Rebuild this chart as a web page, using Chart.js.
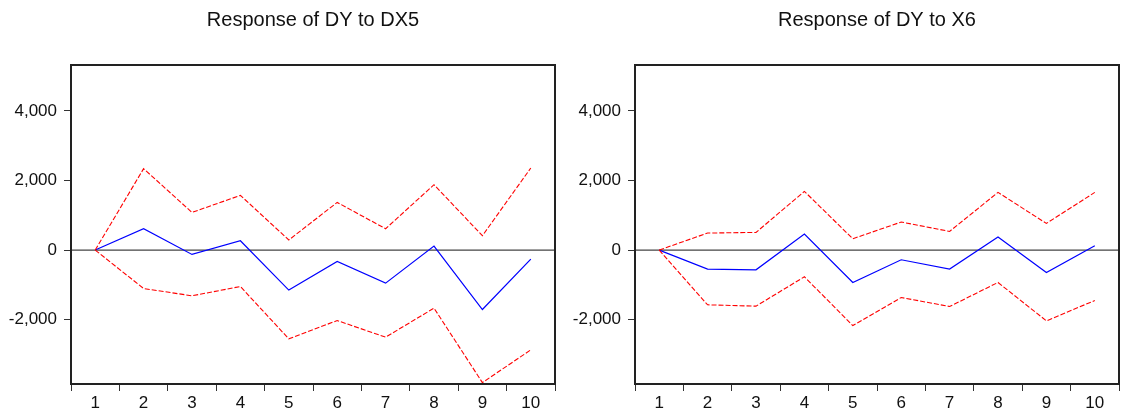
<!DOCTYPE html>
<html>
<head>
<meta charset="utf-8">
<script src="https://cdn.jsdelivr.net/npm/chart.js@4/dist/chart.umd.min.js"></script>
<style>
  html, body { margin: 0; padding: 0; background: #fff; }
  #wrap { position: relative; width: 1123px; height: 412px; overflow: hidden; }
  .panel { position: absolute; top: 0; height: 412px; }
  #p1 { left: 0; width: 562px; }
  #p2 { left: 562px; width: 561px; }
</style>
</head>
<body>
<div id="wrap">
  <div class="panel" id="p1"><canvas id="c1"></canvas></div>
  <div class="panel" id="p2"><canvas id="c2"></canvas></div>
</div>
<script>
/* --------------- Data --------------------- */
const periods = ["1", "2", "3", "4", "5", "6", "7", "8", "9", "10"];
const yTicks = [-2000, 0, 2000, 4000];
const yMin = -3850;
const yMax = 5320;

// Response of DY to DX5
const dx5Resp  = [0, 613, -126, 268, -1151, -328, -950, 115, -1709, -259];
const dx5Upper = [0, 2340, 1082, 1572, 290, 1370, 613, 1879, 412, 2360];
const dx5Lower = [0, -1105, -1315, -1048, -2553, -2026, -2504, -1669, -3810, -2869];

// Response of DY to X6
const x6Resp  = [0, -547, -567, 460, -932, -279, -547, 374, -645, 124];
const x6Upper = [0, 489, 507, 1687, 325, 806, 536, 1658, 766, 1658];
const x6Lower = [0, -1574, -1612, -768, -2170, -1364, -1622, -932, -2035, -1450];

const FONT = "'Liberation Sans', Arial, sans-serif";

/* --------------- Frame and zero line --------------------- */
const framePlugin = {
  id: "frame",
  beforeDatasetsDraw(chart) {
    const ctx = chart.ctx;
    const a = chart.chartArea;
    const y0 = chart.scales.y.getPixelForValue(0);
    ctx.save();
    ctx.strokeStyle = "#444";
    ctx.lineWidth = 1.2;
    ctx.beginPath();
    ctx.moveTo(a.left, y0);
    ctx.lineTo(a.right, y0);
    ctx.stroke();
    ctx.restore();
  },
  afterDraw(chart) {
    const ctx = chart.ctx;
    const a = chart.chartArea;
    ctx.save();
    ctx.strokeStyle = "#222";
    ctx.lineWidth = 2;
    ctx.strokeRect(a.left, a.top, a.right - a.left, a.bottom - a.top);
    ctx.restore();
  }
};

function makeChart(canvas, title, resp, upper, lower, axisWidth, padRight) {
  return new Chart(canvas, {
    type: "line",
    plugins: [framePlugin],
    data: {
      labels: periods,
      datasets: [
        { data: upper, borderColor: "#ff0000", borderWidth: 1.1, borderDash: [5, 2], pointRadius: 0, tension: 0 },
        { data: lower, borderColor: "#ff0000", borderWidth: 1.1, borderDash: [5, 2], pointRadius: 0, tension: 0 },
        { data: resp, borderColor: "#0000ff", borderWidth: 1.2, pointRadius: 0, tension: 0 },
      ],
    },
    options: {
      responsive: true,
      maintainAspectRatio: false,
      animation: false,
      layout: { padding: { left: 0, right: padRight, top: 0, bottom: 0 } },
      plugins: {
        legend: { display: false },
        tooltip: { enabled: false },
        title: {
          display: true,
          fullSize: false,
          text: title,
          color: "#111",
          font: { family: FONT, size: 20, weight: "normal" },
          padding: { top: 8, bottom: 33 },
        },
      },
      scales: {
        x: {
          type: "category",
          offset: true,
          border: { display: false },
          grid: { display: true, drawOnChartArea: false, drawTicks: true, tickLength: 7, color: "#333", offset: true },
          ticks: { color: "#111", font: { family: FONT, size: 17 }, padding: 2, maxRotation: 0, autoSkip: false },
          afterFit(scale) { scale.height = 28; },
        },
        y: {
          min: yMin,
          max: yMax,
          border: { display: false },
          grid: { display: true, drawOnChartArea: false, drawTicks: true, tickLength: 7, color: "#333" },
          ticks: {
            color: "#111",
            font: { family: FONT, size: 17 },
            padding: 7,
            callback: (v) => v.toLocaleString("en-US"),
          },
          afterBuildTicks(scale) { scale.ticks = yTicks.map((v) => ({ value: v })); },
          afterFit(scale) { scale.width = axisWidth; },
        },
      },
    },
  });
}

makeChart(document.getElementById("c1"), "Response of DY to DX5", dx5Resp, dx5Upper, dx5Lower, 71, 7);
makeChart(document.getElementById("c2"), "Response of DY to X6", x6Resp, x6Upper, x6Lower, 73, 4);
</script>
</body>
</html>
